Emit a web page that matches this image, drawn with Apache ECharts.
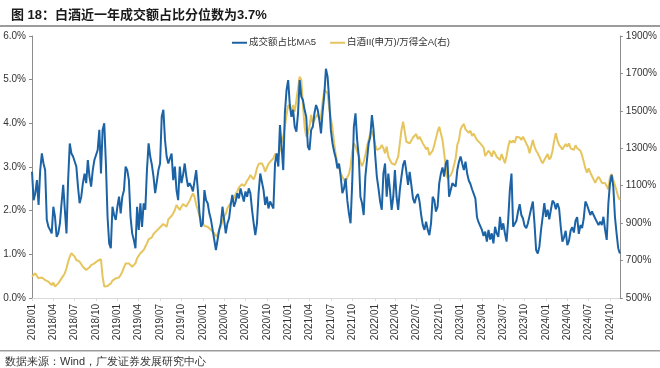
<!DOCTYPE html>
<html><head><meta charset="utf-8">
<script src="https://cdn.jsdelivr.net/npm/echarts@6/dist/echarts.min.js"></script>
<style>html,body{margin:0;padding:0;background:#fff}#c{width:660px;height:368px}</style>
</head><body><div id="c"></div>
<script>
// Weekly observations, first week ending 2018/01/05
var startDate = '2018/01/05';
var quarterTicks = ['2018/01','2018/04','2018/07','2018/10','2019/01','2019/04','2019/07','2019/10',
  '2020/01','2020/04','2020/07','2020/10','2021/01','2021/04','2021/07','2021/10',
  '2022/01','2022/04','2022/07','2022/10','2023/01','2023/04','2023/07','2023/10',
  '2024/01','2024/04','2024/07','2024/10'];
// 成交额占比MA5 (%)
var turnoverShare = [
2.89,2.24,2.40,2.70,2.13,2.93,3.31,3.08,2.93,1.79,
1.63,1.56,1.48,2.09,1.86,1.40,1.48,1.71,2.17,2.59,
2.02,1.48,2.70,3.54,3.31,3.24,3.24,3.01,2.55,2.17,
2.32,2.63,2.85,2.63,3.16,2.78,2.55,2.93,3.16,3.12,
3.39,3.85,2.85,3.85,4.00,3.08,1.86,1.25,1.14,2.09,
1.90,1.79,2.09,2.32,1.94,2.32,2.47,3.01,2.93,2.70,
1.86,1.48,1.33,1.14,2.09,1.56,2.17,1.63,2.17,2.02,
2.93,3.54,
3.24,3.05,2.78,2.40,2.66,2.93,3.08,4.15,
4.31,3.62,3.24,3.08,3.08,3.31,2.70,3.01,2.47,2.24,
3.01,2.63,2.82,3.08,2.78,2.55,2.63,2.55,2.44,2.40,
2.93,2.47,1.94,1.63,1.71,2.47,2.24,2.17,1.94,1.79,
1.75,1.33,1.10,1.10,1.56,1.71,2.09,1.79,1.48,1.71,
1.82,2.13,2.36,2.09,2.21,2.40,2.28,2.51,2.36,2.21,
2.44,2.32,2.51,2.40,2.02,1.71,1.44,1.71,2.40,2.85,
2.85,2.47,2.13,2.32,
2.05,2.21,2.13,2.05,3.08,3.31,
3.01,3.96,3.47,2.93,4.23,4.76,4.99,4.42,4.15,4.31,
3.92,3.81,4.23,4.99,4.61,4.53,4.31,4.15,3.47,3.39,
3.85,3.92,4.23,4.42,4.31,4.08,3.77,4.27,4.65,5.25,
5.07,4.53,3.85,3.54,3.35,3.20,2.97,3.08,2.78,2.40,
2.51,2.74,2.24,1.94,1.71,2.63,3.92,4.23,3.62,3.24,
2.32,2.17,1.90,2.78,3.16,3.54,3.69,4.19,3.85,3.27,
2.78,2.51,2.21,2.02,2.85,3.08,
2.32,2.85,2.47,2.02,
2.32,2.93,2.32,2.02,2.47,2.78,3.05,3.15,2.89,2.59,
2.89,2.59,2.28,2.17,2.32,2.38,2.21,1.90,1.67,1.56,
1.75,1.56,1.44,1.71,2.32,2.24,1.98,2.09,2.63,2.85,
2.99,2.78,3.08,3.16,2.32,2.32,2.63,2.66,2.55,2.93,
3.12,3.24,3.08,2.93,3.12,2.85,2.69,2.61,2.49,2.53,
2.28,1.85,1.73,1.77,1.56,1.42,1.52,1.29,1.56,1.34,
1.48,1.25,1.63,1.48,1.40,1.86,1.56,1.71,
1.48,1.29,
1.79,2.47,2.85,1.63,1.67,1.77,1.98,2.15,1.90,1.82,
1.65,1.60,1.71,1.88,2.05,2.21,1.71,1.10,1.02,1.18,
1.56,1.86,2.17,1.86,2.02,1.80,2.02,2.23,2.18,2.03,
2.17,2.05,1.63,1.29,1.39,1.54,1.21,1.31,1.54,1.62,
1.50,1.77,1.85,1.47,1.67,1.60,1.82,2.21,2.13,2.17,
1.90,1.98,1.95,1.82,1.86,1.67,1.75,1.67,1.86,1.56,
1.33,2.17,2.63,2.82,2.55,1.86,1.48,1.14,1.02
];
// 白酒II(申万)/万得全A (%)
var relativeRatio = [
614,623,632,618,605,614,610,600,596,593,
587,578,569,582,561,569,578,587,605,618,
632,659,694,721,739,748,721,703,712,694,
685,667,659,650,659,664,676,667,685,694,
699,703,707,614,561,552,564,569,578,593,
600,605,614,610,623,641,664,685,694,685,
676,667,659,685,712,721,739,742,756,774,
792,813,
813,824,842,849,860,867,878,885,
895,890,881,920,926,938,952,970,997,997,
970,988,1002,997,988,1006,1020,1041,1059,1041,
997,970,938,917,899,885,895,881,872,863,
863,846,828,842,863,881,913,935,949,979,
988,1009,1009,1033,1056,1068,1091,1095,1109,1098,
1109,1127,1139,1157,1152,1134,1157,1193,1216,1212,
1220,1202,1175,1175,
1216,1228,1237,1246,1269,1273,
1259,1291,1335,1362,1415,1478,1531,1514,1496,1531,
1496,1487,1620,1683,1665,1531,1415,1362,1380,1415,
1478,1433,1451,1469,1483,1451,1469,1549,1611,1611,
1594,1514,1460,1407,1326,1264,1220,1202,1166,1148,
1130,1116,1145,1162,1202,1282,1326,1312,1282,1259,
1228,1205,1228,1264,1309,1344,1380,1394,1362,1318,
1291,1282,1300,1318,1300,1273,
1309,1255,1237,1220,
1228,1211,1202,1255,1326,1398,1442,1389,1335,1344,
1326,1341,1358,1348,1376,1348,1362,1344,1326,1312,
1294,1305,1264,1269,1287,1318,1353,1389,1415,1407,
1344,1273,1202,1139,1139,1157,1175,1175,1246,1318,
1344,1401,1419,1430,1401,1398,1383,1394,1366,1378,
1360,1344,1344,1326,1323,1305,1259,1269,1287,1276,
1255,1287,1273,1255,1264,1237,1269,1264,
1220,1259,
1309,1341,1330,1341,1330,1362,1371,1358,1344,1362,
1344,1326,1309,1273,1309,1344,1309,1287,1273,1255,
1234,1220,1237,1234,1269,1241,1252,1287,1341,1380,
1341,1318,1309,1294,1309,1323,1309,1326,1300,1309,
1291,1316,1300,1309,1287,1262,1228,1193,1170,1193,
1170,1152,1134,1116,1134,1148,1134,1116,1121,1113,
1098,1080,1148,1162,1130,1104,1073,1041,1024
];
var leftTicks = {min: 0, max: 6, step: 1};
var rightTicks = {min: 500, max: 1900, step: 200};

// weekly date categories
var dates = [];
(function () {
  var p = startDate.split('/');
  var t = Date.UTC(+p[0], +p[1] - 1, +p[2]);
  for (var i = 0; i < turnoverShare.length; i++) {
    var d = new Date(t + i * 7 * 86400000);
    var m = d.getUTCMonth() + 1, dd = d.getUTCDate();
    dates.push(d.getUTCFullYear() + '/' + (m < 10 ? '0' + m : m) + '/' + (dd < 10 ? '0' + dd : dd));
  }
})();
var tickSet = {};
quarterTicks.forEach(function (q) { tickSet[q] = true; });
function isQuarterStart(idx) {
  var ym = dates[idx].slice(0, 7);
  return !!tickSet[ym] && (idx === 0 || dates[idx - 1].slice(0, 7) !== ym);
}

var FONT = 'Liberation Sans, Arial, Noto Sans CJK SC, sans-serif';
var chart = echarts.init(document.getElementById('c'), null, {renderer: 'canvas'});
chart.setOption({
  backgroundColor: '#ffffff',
  animation: false,
  textStyle: {fontFamily: FONT},
  title: {
    text: '图 18：白酒近一年成交额占比分位数为3.7%',
    left: 6, top: 4,
    textStyle: {fontSize: 13, fontWeight: 'bold', color: '#1a1a1a', fontFamily: FONT}
  },
  graphic: [
    {type: 'rect', shape: {x: 0, y: 25, width: 660, height: 2}, style: {fill: '#9c9c9c'}, silent: true},
    {type: 'rect', shape: {x: 0, y: 350, width: 660, height: 1.5}, style: {fill: '#9c9c9c'}, silent: true},
    {type: 'text', left: 5, top: 356, silent: true,
      style: {text: '数据来源：Wind，广发证券发展研究中心', fontSize: 11, fill: '#333', font: '11px ' + FONT}}
  ],
  legend: {
    top: 33, left: 227, itemGap: 14, itemWidth: 15, itemHeight: 2,
    icon: 'rect',
    textStyle: {fontSize: 9.5, color: '#333', padding: [0, 0, 0, -3]},
    data: ['成交额占比MA5', '白酒II(申万)/万得全A(右)']
  },
  grid: {left: 32, right: 39, top: 36, bottom: 70, containLabel: false},
  xAxis: {
    type: 'category',
    data: dates,
    boundaryGap: false,
    axisLine: {show: true, lineStyle: {color: '#d9d9d9', width: 1}},
    axisTick: {show: true, interval: function (i) { return isQuarterStart(i); }, length: 3, lineStyle: {color: '#d9d9d9'}},
    axisLabel: {
      interval: function (i) { return isQuarterStart(i); },
      formatter: function (v) { return v.slice(0, 7); },
      rotate: 90, fontSize: 10, color: '#333', margin: 6
    },
    splitLine: {show: false}
  },
  yAxis: [
    {
      type: 'value', min: leftTicks.min, max: leftTicks.max, interval: leftTicks.step,
      axisLine: {show: true, lineStyle: {color: '#8c8c8c'}},
      axisTick: {show: true, length: 3, lineStyle: {color: '#8c8c8c'}},
      axisLabel: {formatter: function (v) { return v.toFixed(1) + '%'; }, fontSize: 10, color: '#333', margin: 6},
      splitLine: {show: false}
    },
    {
      type: 'value', min: rightTicks.min, max: rightTicks.max, interval: rightTicks.step,
      position: 'right',
      axisLine: {show: true, lineStyle: {color: '#8c8c8c'}},
      axisTick: {show: true, length: 3, lineStyle: {color: '#8c8c8c'}},
      axisLabel: {formatter: function (v) { return v + '%'; }, fontSize: 10, color: '#333', margin: 6},
      splitLine: {show: false}
    }
  ],
  series: [
    {
      name: '成交额占比MA5', type: 'line', yAxisIndex: 0, data: turnoverShare,
      showSymbol: false, symbol: 'none', lineStyle: {color: '#1c63a6', width: 2}, itemStyle: {color: '#1c63a6'}, z: 3
    },
    {
      name: '白酒II(申万)/万得全A(右)', type: 'line', yAxisIndex: 1, data: relativeRatio,
      showSymbol: false, symbol: 'none', lineStyle: {color: '#e6c55f', width: 2}, itemStyle: {color: '#e6c55f'}, z: 2
    }
  ]
});
</script></body></html>
